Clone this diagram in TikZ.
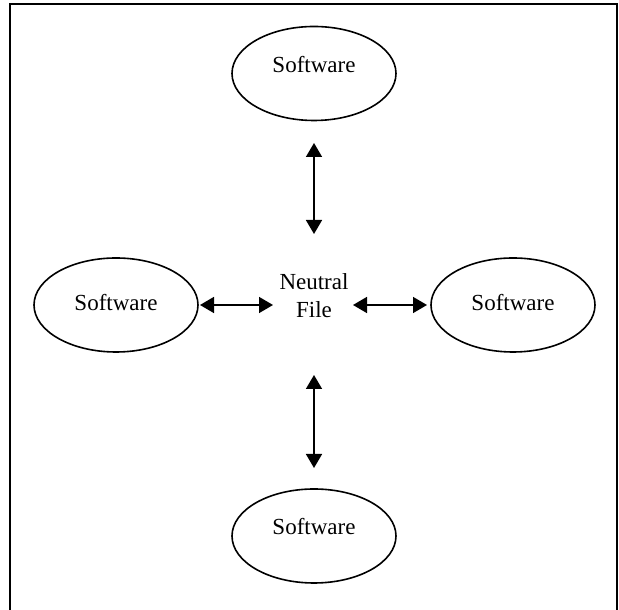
\documentclass[tikz,border=0pt]{standalone}
\usepackage{fontspec}
\setmainfont{Liberation Serif}
\usetikzlibrary{arrows.meta,shapes.geometric}
\begin{document}
\begin{tikzpicture}[x=1pt,y=1pt,
  soft/.style={ellipse,draw=black,line width=1.6pt,minimum width=164pt,minimum height=94pt,inner sep=0pt},
  txt/.style={font=\fontsize{23}{28}\selectfont},
  dbl/.style={line width=1.6pt,{Triangle[length=14pt,width=16pt]}-{Triangle[length=14pt,width=16pt]}}]
\useasboundingbox (0,0) rectangle (619,610);
\fill[white] (0,0) rectangle (619,610);
\draw[line width=2pt,black] (10,-2) -- (10,606) -- (617,606) -- (617,-2);
\node[soft,label={[txt,yshift=8.5pt]center:Software}] (top) at (314,536.5) {};
\node[soft,label={[txt,yshift=9pt]center:Software}] (bot) at (314,74) {};
\node[soft,label={[txt,yshift=2pt]center:Software}] (lft) at (116,305) {};
\node[soft,label={[txt,yshift=2pt]center:Software}] (rgt) at (513,305) {};
\node[txt,align=center,inner sep=0pt] (mid) at (314,314) {Neutral\\File};
\draw[dbl,shorten <=69.5pt,shorten >=62pt] (top.center) -- (mid.center);
\draw[dbl,shorten <=79pt,shorten >=68pt] (mid.center) -- (bot.center);
\draw[dbl,shorten <=84pt,shorten >=41pt] (lft.center) -- (mid.center |- lft.center);
\draw[dbl,shorten <=39pt,shorten >=86pt] (mid.center |- rgt.center) -- (rgt.center);
\end{tikzpicture}
\end{document}
